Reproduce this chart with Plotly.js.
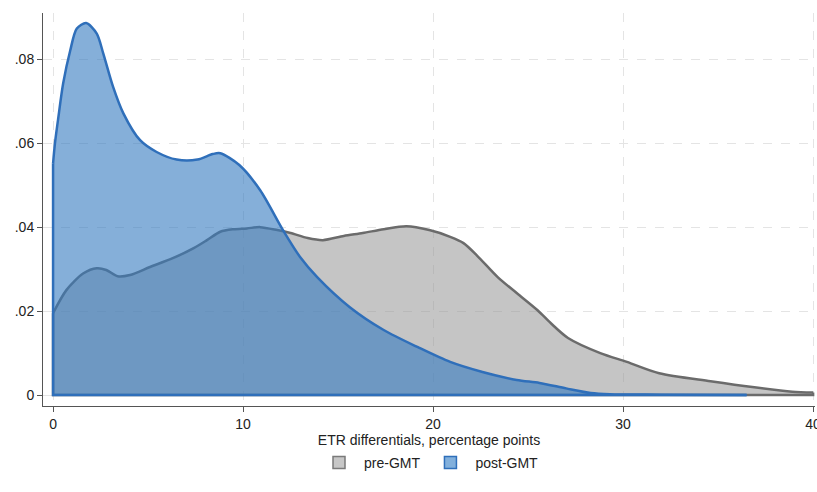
<!DOCTYPE html>
<html>
<head>
<meta charset="utf-8">
<script src="https://cdn.plot.ly/plotly-3.0.1.min.js"></script>
<style>html,body{margin:0;padding:0;background:#fff;} #chart{width:817px;height:492px;}</style>
</head>
<body>
<div id="chart"></div>
<script>
// pre-GMT density (ETR differential, density)
const preX = [0, 0.7, 1.6, 2.3, 2.8, 3.4, 4.05, 5.1, 6.3, 7.4, 8.1, 8.8, 9.5, 10.2, 10.9, 11.8, 12.5, 13.4, 14.2, 15.3, 16.3, 17.4, 18.6, 19.8, 20.9, 21.6, 22.3, 23.4, 24.4, 25.5, 26.2, 27.1, 28.8, 30.2, 31.9, 34.6, 36.8, 38.9, 40];
const preY = [0.0195, 0.025, 0.029, 0.0302, 0.0298, 0.0283, 0.0286, 0.0305, 0.0326, 0.035, 0.0369, 0.0389, 0.0395, 0.0397, 0.0400, 0.0393, 0.0386, 0.0374, 0.0369, 0.0379, 0.0386, 0.0395, 0.0402, 0.0393, 0.0377, 0.0362, 0.0333, 0.0281, 0.0243, 0.0202, 0.0171, 0.0136, 0.0100, 0.0079, 0.0052, 0.0033, 0.0019, 0.0008, 0.0006];
// post-GMT density
const postX = [0, 0.1, 0.28, 0.53, 0.9, 1.25, 1.74, 2.3, 2.64, 3.16, 3.7, 4.58, 5.45, 6.5, 7.6, 8.4, 8.8, 9.8, 10.9, 12.1, 13.0, 13.9, 15.6, 17.4, 19.2, 20.9, 22.6, 24.4, 25.6, 27.0, 28.3, 29.3, 32, 36.5];
const postY = [0.0552, 0.060, 0.0662, 0.0742, 0.082, 0.0873, 0.0886, 0.0861, 0.0814, 0.0734, 0.0671, 0.0607, 0.0579, 0.0561, 0.0561, 0.0574, 0.0576, 0.0548, 0.0488, 0.0393, 0.0329, 0.0281, 0.0210, 0.0155, 0.0114, 0.0079, 0.0055, 0.0036, 0.0029, 0.0016, 0.0005, 0.0002, 0.0001, 0.0000];

const seriesNames = ['pre-GMT', 'post-GMT'];
const xTicks = [0, 10, 20, 30, 40];
const xTickText = ['0', '10', '20', '30', '40'];
const yTicks = [0, 0.02, 0.04, 0.06, 0.08];
const yTickText = ['0', '.02', '.04', '.06', '.08'];
const xTitle = 'ETR differentials, percentage points';

const grayLine = '#6b6b6b', grayFill = 'rgba(150,150,150,0.55)', grayLegend = '#c7c7c7';
const blueLine = '#2f6fba', blueFill = 'rgba(52,122,192,0.6)', blueLegend = '#82b0dc';

function densityTraces(xs, ys, lineColor, fillColor) {
  const n = xs.length;
  return [
    {x: xs, y: ys, type: 'scatter', mode: 'lines', fill: 'tozeroy', fillcolor: fillColor,
     showlegend: false, hoverinfo: 'skip',
     line: {color: lineColor, width: 2.5, shape: 'spline', smoothing: 0.8}},
    {x: [xs[0], xs[0], xs[n - 1], xs[n - 1]], y: [ys[0], 0, 0, ys[n - 1]],
     type: 'scatter', mode: 'lines', showlegend: false, hoverinfo: 'skip',
     line: {color: lineColor, width: 2.5}}
  ];
}

const traces = []
  .concat(densityTraces(preX, preY, grayLine, grayFill))
  .concat(densityTraces(postX, postY, blueLine, blueFill))
  .concat([
    {x: [null], y: [null], type: 'bar', name: seriesNames[0],
     marker: {color: grayLegend, line: {color: '#7a7a7a', width: 1.5}}},
    {x: [null], y: [null], type: 'bar', name: seriesNames[1],
     marker: {color: blueLegend, line: {color: blueLine, width: 1.5}}}
  ]);

const layout = {
  width: 817, height: 492,
  margin: {l: 43, r: 2, t: 13, b: 86},
  paper_bgcolor: '#fff', plot_bgcolor: '#fff',
  font: {family: 'Liberation Sans, Arial, sans-serif', size: 14, color: '#222'},
  showlegend: true,
  legend: {orientation: 'h', x: 0.5, xanchor: 'center', y: -0.145, yanchor: 'middle',
           font: {size: 14, color: '#222'}, itemwidth: 40, traceorder: 'normal'},
  xaxis: {range: [-0.53, 40.1], tickvals: xTicks, ticktext: xTickText,
          ticklabeloverflow: 'allow',
          showgrid: true, gridcolor: '#e4e4e4', griddash: 'dash', gridwidth: 1,
          zeroline: false, showline: true, linecolor: '#555', linewidth: 1,
          ticks: 'outside', ticklen: 5, tickcolor: '#555',
          title: {text: xTitle, standoff: 3, font: {size: 14, color: '#222'}}},
  yaxis: {range: [-0.0026, 0.091], tickvals: yTicks, ticktext: yTickText,
          showgrid: true, gridcolor: '#e4e4e4', griddash: 'dash', gridwidth: 1,
          zeroline: false, showline: true, linecolor: '#555', linewidth: 1,
          ticks: 'outside', ticklen: 5, tickcolor: '#555'}
};

Plotly.newPlot('chart', traces, layout, {displayModeBar: false, staticPlot: true});
</script>
</body>
</html>
